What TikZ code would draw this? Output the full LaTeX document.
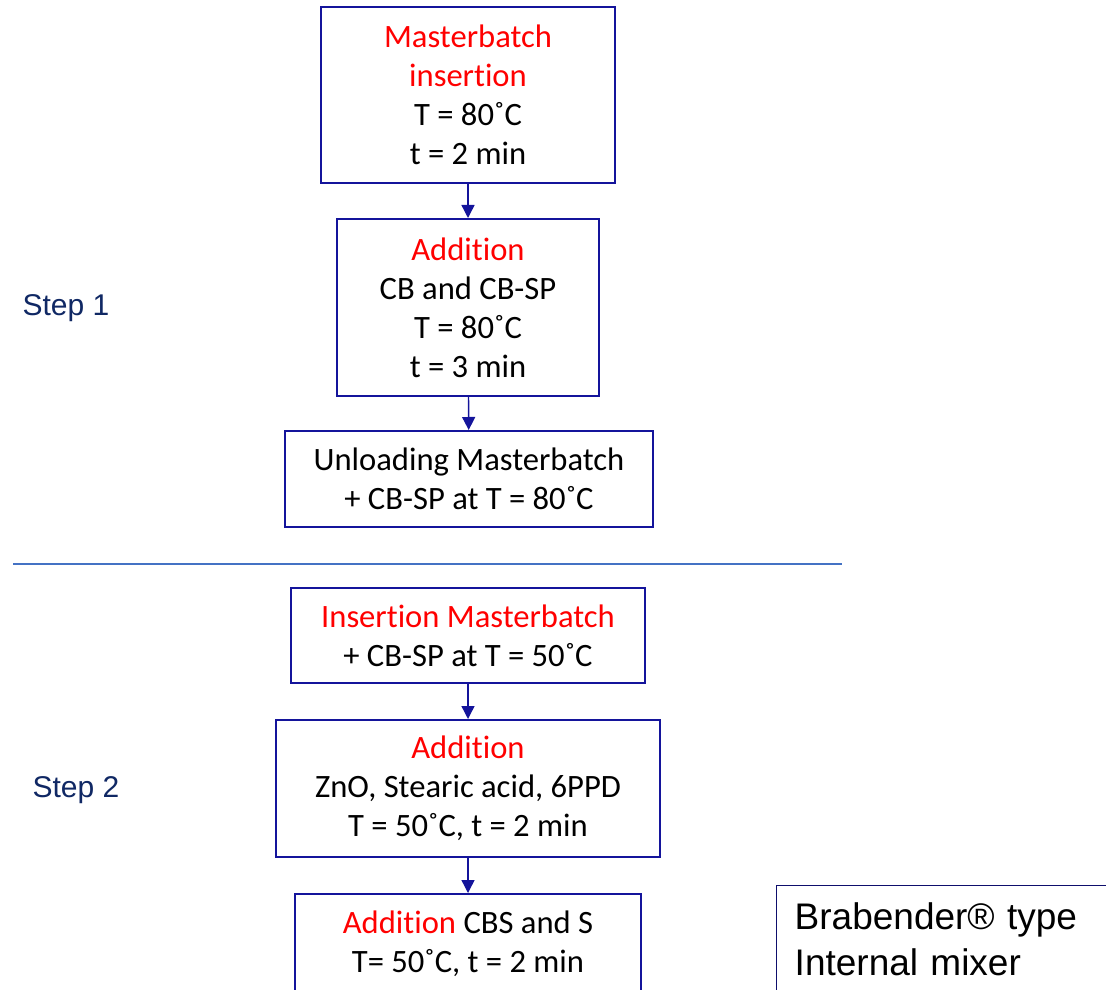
\documentclass[tikz,border=0pt]{standalone}
\usepackage{fontspec}
\setmainfont{Carlito}[Ligatures=NoCommon]
\newfontfamily\arialfont{Liberation Sans}
\usetikzlibrary{arrows.meta}
\definecolor{boxblue}{RGB}{20,20,155}
\definecolor{stepnavy}{RGB}{16,40,100}
\definecolor{rulesteel}{RGB}{68,114,196}
\tikzset{
  stage/.style={draw=boxblue, line width=1pt, align=center, inner sep=0pt,
    font=\fontsize{16.3}{19.5}\selectfont},
  flow/.style={draw=boxblue, line width=0.7pt, -{Triangle[width=6.5pt,length=6.5pt]}},
  steplab/.style={text=stepnavy, font=\arialfont\fontsize{15}{18}\selectfont}
}
\begin{document}
\begin{tikzpicture}[x=0.5pt,y=-0.5pt]
\useasboundingbox (0,0) rectangle (1106,989);
\clip (0,0) rectangle (1106,989);
\node[stage, minimum width=147pt, minimum height=88pt] (ins) at (468,95)
  {\textcolor{red}{Masterbatch}\\\textcolor{red}{insertion}\\T = 80˚C\\t = 2 min};
\node[stage, minimum width=131pt, minimum height=88.5pt] (addcb) at (468,307.5)
  {\textcolor{red}{Addition}\\CB and CB-SP\\T = 80˚C\\t = 3 min};
\node[stage, minimum width=184pt, minimum height=48pt] (unload) at (469,479)
  {Unloading Masterbatch\\+ CB-SP at T = 80˚C};
\node[stage, minimum width=177pt, minimum height=47.5pt] (reins) at (468,635.5)
  {\textcolor{red}{Insertion Masterbatch}\\+ CB-SP at T = 50˚C};
\node[stage, minimum width=192pt, minimum height=68.5pt] (addzn) at (468,788.5)
  {\textcolor{red}{Addition}\\ZnO, Stearic acid, 6PPD\\T = 50˚C, t = 2 min};
\node[stage, anchor=north, minimum width=173pt, inner ysep=8.5pt, text depth=50pt] (addcbs) at (468,893)
  {\textcolor{red}{Addition} CBS and S\\T= 50˚C, t = 2 min};
\foreach \a/\b in {ins/addcb, addcb/unload, reins/addzn, addzn/addcbs}{\draw[flow] (\a) -- (\b);}
\draw[rulesteel, line width=1pt] (13,564) -- (842,564);
\node[steplab] (s1) at (66,308) {Step 1};
\node[steplab] (s2) at (76,790) {Step 2};
\node[draw=boxblue!70!black, line width=0.7pt, anchor=north west, align=left, inner xsep=9pt, inner ysep=8.5pt,
  text width=190pt, text depth=40pt, font=\arialfont\fontsize{18.5}{23}\selectfont] (mixer) at (776,885)
  {Brabender® type\\Internal mixer};
\end{tikzpicture}
\end{document}
